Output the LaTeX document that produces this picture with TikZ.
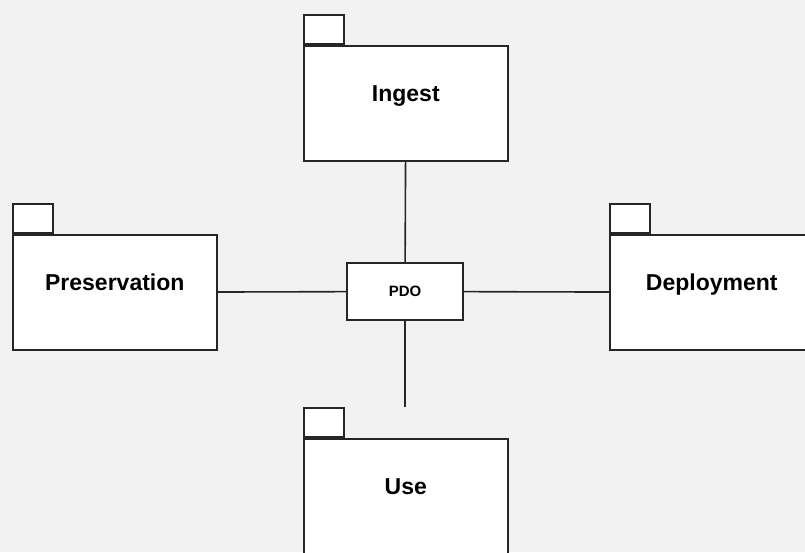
\documentclass[tikz,border=0pt]{standalone}
\usepackage{fontspec}
\setmainfont{Liberation Sans}
\definecolor{bgcol}{HTML}{F2F2F2}
\definecolor{linecol}{HTML}{262626}
\begin{document}
\begin{tikzpicture}[x=1pt,y=-1pt,
  conn/.style={draw=linecol, line width=1.6pt},
  pkgbody/.style={draw=linecol, line width=1.6pt, fill=white, minimum width=204pt,
    minimum height=115pt, inner sep=0pt, anchor=north west},
  pkgtab/.style={draw=linecol, line width=1.6pt, fill=white, minimum width=40pt,
    minimum height=29pt, inner sep=0pt, anchor=south west},
  pkgname/.style={font=\bfseries\fontsize{23}{27}\selectfont, anchor=base, yshift=2pt},
  hub/.style={draw=linecol, line width=1.6pt, fill=white, minimum width=116pt,
    minimum height=57pt, inner sep=0pt, font=\bfseries\fontsize{15}{17}\selectfont}]
  % canvas
  \fill[bgcol] (0,0) rectangle (805,552);
  \useasboundingbox (0,0) rectangle (805,552);
  \clip (0,0) rectangle (805,552);

  % central object
  \node[hub] (pdo) at (405,291.5) {PDO};

  % packages: body with a tab on its upper left corner
  \node[pkgbody] (ingest) at (303,45) {};
  \node[pkgtab] (ingesttab) at (ingest.north west) {};
  \node[pkgname] (ingestname) at (ingest.center) {Ingest};

  \node[pkgbody] (pres) at (12,234) {};
  \node[pkgtab] (prestab) at (pres.north west) {};
  \node[pkgname] (presname) at (pres.center) {Preservation};

  \node[pkgbody] (deploy) at (609,234) {};
  \node[pkgtab] (deploytab) at (deploy.north west) {};
  \node[pkgname] (deployname) at (deploy.center) {Deployment};

  \node[pkgbody] (use) at (303,438) {};
  \node[pkgtab] (usetab) at (use.north west) {};
  \node[pkgname] (usename) at (use.center) {Use};

  % connectors
  \coordinate (useend) at (405,407);
  \draw[conn] (ingest) -- (pdo);
  \draw[conn] (pres) -- (pdo);
  \draw[conn] (pdo) -- (deploy);
  \draw[conn] (pdo.south) -- (useend);
\end{tikzpicture}
\end{document}
